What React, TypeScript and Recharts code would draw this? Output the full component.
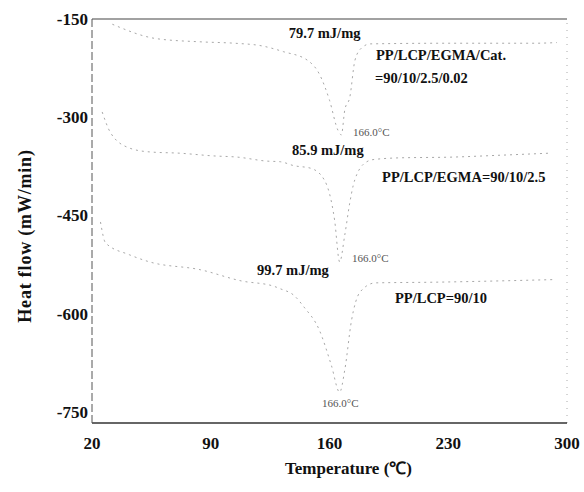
import React from "react";
import {
  Label,
  Line,
  LineChart,
  ReferenceDot,
  ReferenceLine,
  XAxis,
  YAxis,
} from "recharts";

// DSC heating curves
const catTemp = [32, 58, 85, 104, 120, 133, 147, 154, 160, 165, 167, 169, 172, 175, 179, 184, 231, 281, 294];
const catHeat = [-158, -180, -185, -187, -191, -200, -213, -234, -274, -320, -327, -289, -269, -213, -194, -188, -187, -187, -186];

const egmaTemp = [26, 31, 42, 54, 72, 91, 106, 123, 131, 139, 149, 157, 163, 166, 169, 172, 174, 176, 178, 182, 185, 202, 231, 261, 289];
const egmaHeat = [-292, -324, -347, -353, -355, -359, -361, -367, -368, -374, -378, -396, -457, -521, -480, -430, -404, -388, -378, -368, -365, -362, -361, -358, -355];

const lcpTemp = [25, 28, 42, 54, 84, 108, 127, 131, 139, 145, 154, 161, 166, 169, 173, 178, 187, 221, 260, 292];
const lcpHeat = [-460, -492, -510, -521, -533, -550, -558, -562, -572, -590, -625, -678, -720, -686, -610, -567, -553, -552, -550, -548];

const xTicks = [20, 90, 160, 230, 300];
const yTicks = [-150, -300, -450, -600, -750];

// text annotations: [text, temperature, heat flow, kind]
const notes: [string, number, number, "bold" | "small"][] = [
  ["79.7 mJ/mg", 136, -171, "bold"],
  ["PP/LCP/EGMA/Cat.", 187.4, -205, "bold"],
  ["=90/10/2.5/0.02", 186.8, -240, "bold"],
  ["166.0\u00b0C", 173.9, -322, "small"],
  ["85.9 mJ/mg", 137.9, -350, "bold"],
  ["PP/LCP/EGMA=90/10/2.5", 191, -391, "bold"],
  ["166.0\u00b0C", 173.3, -515, "small"],
  ["99.7 mJ/mg", 117.3, -533, "bold"],
  ["PP/LCP=90/10", 198.6, -576, "bold"],
  ["166.0\u00b0C", 155.6, -736, "small"],
];

const zip = (t: number[], h: number[]) => t.map((temp, i) => ({ temp, heat: h[i] }));

const serif = "'Liberation Serif', 'Times New Roman', serif";
const curve = { stroke: "#a8a8a8", strokeWidth: 1, strokeDasharray: "2 4" };

const YTitle = (props: any) => {
  const vb = props.viewBox || { x: 0, y: 19, width: 92, height: 404 };
  const cx = vb.x + 25;
  const cy = vb.y + vb.height / 2 + 15;
  return (
    <text
      x={cx}
      y={cy}
      transform={`rotate(-90 ${cx} ${cy})`}
      textAnchor="middle"
      dominantBaseline="central"
      fontFamily={serif}
      fontWeight="bold"
      fontSize={18}
      letterSpacing={0.8}
      fill="#111"
    >
      Heat flow (mW/min)
    </text>
  );
};

const XTitle = (props: any) => {
  const vb = props.viewBox || { x: 92, y: 423, width: 475, height: 30 };
  return (
    <text
      x={vb.x + vb.width / 2 + 19}
      y={vb.y + 45}
      textAnchor="middle"
      dominantBaseline="central"
      fontFamily={serif}
      fontWeight="bold"
      fontSize={17}
      fill="#111"
    >
      Temperature (℃)
    </text>
  );
};

export default function App() {
  const tickStyle = { fontFamily: serif, fontWeight: "bold", fontSize: 17, fill: "#111" };

  return (
    <div style={{ position: "absolute", left: 0, top: 0, width: 584, height: 492, background: "#fff" }}>
      <LineChart width={584} height={492} margin={{ top: 19, right: 17, bottom: 39, left: 0 }}>
        <XAxis
          type="number"
          dataKey="temp"
          domain={[20, 300]}
          ticks={xTicks}
          tickLine={false}
          tickSize={0}
          tickMargin={14}
          axisLine={{ stroke: "#333", strokeWidth: 1.5 }}
          tick={tickStyle}
          allowDataOverflow
        >
          <Label content={XTitle} />
        </XAxis>
        <YAxis
          type="number"
          dataKey="heat"
          width={92}
          domain={[-767, -150]}
          ticks={yTicks}
          tickLine={false}
          tickSize={0}
          tickMargin={4}
          axisLine={{ stroke: "#555", strokeDasharray: "8 3" }}
          tick={tickStyle}
          allowDataOverflow
        >
          <Label content={YTitle} />
        </YAxis>
        <ReferenceLine y={-150} stroke="#444" strokeWidth={1.2} />
        <ReferenceLine x={300} stroke="#aaa" strokeDasharray="1 6" />
        <Line data={zip(catTemp, catHeat)} dataKey="heat" type="monotone" dot={false} isAnimationActive={false} {...curve} />
        <Line data={zip(egmaTemp, egmaHeat)} dataKey="heat" type="monotone" dot={false} isAnimationActive={false} {...curve} />
        <Line data={zip(lcpTemp, lcpHeat)} dataKey="heat" type="monotone" dot={false} isAnimationActive={false} {...curve} />
        {notes.map(([text, t, h, kind], i) => (
          <ReferenceDot
            key={i}
            x={t}
            y={h}
            r={0}
            fill="none"
            stroke="none"
            label={{
              value: text,
              position: "right",
              offset: 0,
              fontFamily: serif,
              fontWeight: kind === "bold" ? "bold" : "normal",
              fontSize: kind === "bold" ? 14.5 : 11,
              fill: kind === "bold" ? "#111" : "#555",
            }}
          />
        ))}
      </LineChart>
    </div>
  );
}
